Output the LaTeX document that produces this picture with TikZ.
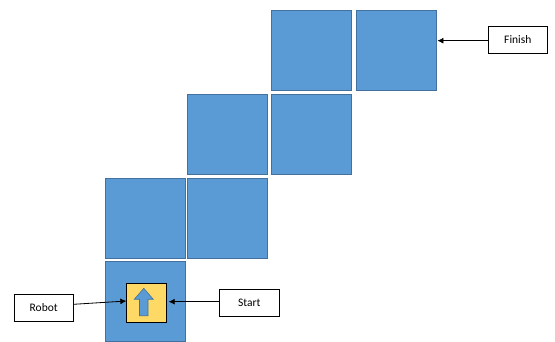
\documentclass[tikz,border=0pt]{standalone}
\usepackage{fontspec}
\setmainfont{Carlito}
\usetikzlibrary{arrows.meta}
\definecolor{tileblue}{HTML}{5B9BD5}
\definecolor{tileedge}{HTML}{41719C}
\definecolor{robotyellow}{HTML}{FFD966}
\tikzset{
  tile/.style={draw=tileedge, fill=tileblue, line width=0.8pt, minimum width=80pt, minimum height=80pt, inner sep=0pt},
  label box/.style={draw=black, fill=white, line width=0.8pt, inner sep=0pt, font=\fontsize{11.5}{13}\selectfont},
  pointer/.style={-{Latex[length=6pt,width=6pt]}, line width=0.8pt}
}
\begin{document}
\begin{tikzpicture}[x=1pt,y=-1pt]
\useasboundingbox (0,0) rectangle (555,342);
% tiles (centres)
\node[tile] (t1) at (145,301.5) {};
\node[tile] (t2) at (145,218) {};
\node[tile] (t3) at (227.5,218) {};
\node[tile] (t4) at (227.5,134) {};
\node[tile] (t5) at (311,134) {};
\node[tile] (t6) at (311,50) {};
\node[tile] (t7) at (396,50) {};
% robot
\node[draw=black, fill=robotyellow, line width=0.8pt, minimum width=39.5pt, minimum height=39.5pt, inner sep=0pt] (robot) at (146.5,303) {};
\filldraw[draw=tileedge, fill=tileblue, line width=0.6pt]
  (143.8,288.3) -- (153.3,299.3) -- (148,299.3) -- (148,315.7) -- (139.5,315.7) -- (139.5,299.3) -- (134.3,299.3) -- cycle;
% labels
\node[label box, minimum width=59pt, minimum height=26.7pt] (lrobot) at (43.7,307.7) {Robot};
\node[label box, minimum width=59.3pt, minimum height=27pt] (lstart) at (249.3,302.8) {Start};
\node[label box, minimum width=59pt, minimum height=26.7pt] (lfinish) at (517.8,40) {Finish};
% pointers
\draw[pointer] (lrobot.east |- 0,304.3) -- (robot.west |- 0,301);
\draw[pointer] (lstart.west |- 0,301.7) -- ([xshift=2pt]robot.east |- 0,301.7);
\draw[pointer] (lfinish.west |- 0,40.7) -- ([xshift=1pt]t7.east |- 0,40.7);
\end{tikzpicture}
\end{document}
